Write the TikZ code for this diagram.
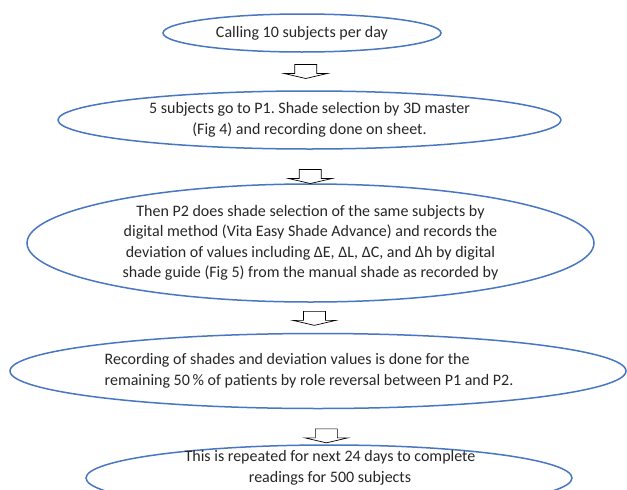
\documentclass[tikz,border=0pt]{standalone}
\usepackage{fontspec}
\setmainfont{Carlito}
\usepackage{tikz}
\usetikzlibrary{shapes.geometric,calc}
\usepackage{xcolor}
\frenchspacing

\definecolor{ovalblue}{RGB}{72,118,192}
\definecolor{inktext}{RGB}{38,38,38}

\tikzset{
  stage/.style={ellipse,draw=ovalblue,line width=1.5pt,inner sep=0pt,
    text=inktext,align=center,font=\fontsize{16}{20.5}\selectfont},
  stagetext/.style={text=inktext,font=\fontsize{16}{20.5}\selectfont},
  blockarrow/.pic={
    \filldraw[fill=white,draw=black,line width=0.7pt]
      (-11,-7)--(11,-7)--(11,2)--(21.5,2)--(0,7)--(-21.5,2)--(-11,2)--cycle;
  }
}

\begin{document}
\begin{tikzpicture}[x=1pt,y=-1pt]
\useasboundingbox (0,0) rectangle (627,490);

% the five stages
\node[stage,minimum width=278,minimum height=38] (call) at (302,33) {Calling 10 subjects per day};
\node[stage,minimum width=503,minimum height=58] (sel) at (309.5,120)
  {5 subjects go to P1. Shade selection by 3D master\\ (Fig 4) and recording done on sheet.};
\node[stage,minimum width=567,minimum height=118] (dig) at (310.5,243)
  {Then P2 does shade selection of the same subjects by\\
   digital method (Vita Easy Shade Advance) and records the\\
   deviation of values including ΔE, ΔL, ΔC, and Δh by digital\\
   shade guide (Fig 5) from the manual shade as recorded by};
\node[stage,minimum width=616,minimum height=75] (rec) at (318,371) {};
\node[stagetext,align=left] (rectxt) at (309,371)
  {Recording of shades and deviation values is done for the\\
   remaining 50\,\% of patients by role reversal between P1 and P2.};
\node[stage,minimum width=486,minimum height=66] (rep) at (329,478) {};
\node[stagetext,align=center] (reptxt) at (330,468)
  {This is repeated for next 24 days to complete\\ readings for 500 subjects};

% hollow arrows between stages
\pic at ($(call.south)!0.5!(sel.north)$) {blockarrow};
\pic at ($(sel.south)!0.8!(dig.north)$) {blockarrow};
\pic at ($(dig.south)!0.52!(rec.north)$) {blockarrow};
\pic at ($(rec.south)!0.76!(rep.north)$) {blockarrow};
\end{tikzpicture}
\end{document}
